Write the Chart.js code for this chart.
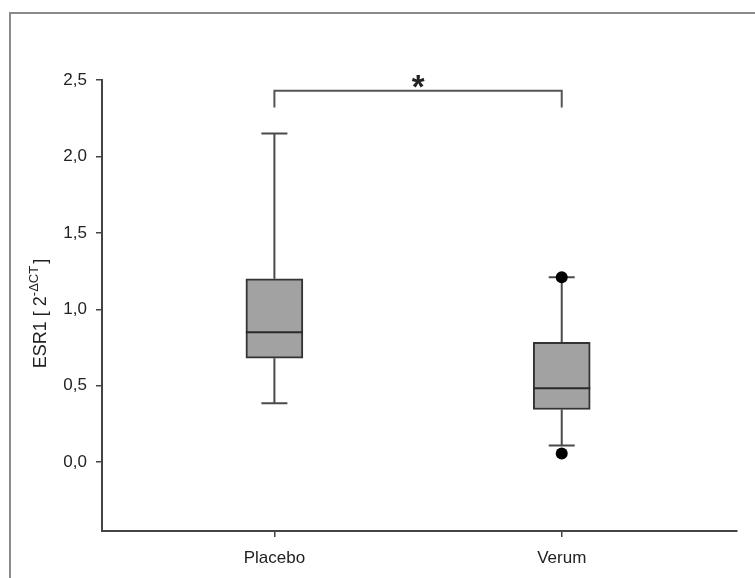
<!DOCTYPE html>
<html>
<head>
<meta charset="utf-8">
<script src="https://cdn.jsdelivr.net/npm/chart.js@4.4.1/dist/chart.umd.min.js"></script>
<style>
  html, body { margin: 0; padding: 0; background: #ffffff; }
  #wrap { width: 755px; height: 578px; position: relative; }
</style>
</head>
<body>
<div id="wrap"><canvas id="c" width="755" height="578"></canvas></div>
<script>
// Groups on the x axis (placed at positions 1 and 2)
const categories = ['Placebo', 'Verum'];
const positions = [1, 2];

// Box-plot summary per group
const whiskerLow  = [0.385, 0.11];
const q1          = [0.68, 0.345];
const median      = [0.85, 0.483];
const q3          = [1.20, 0.784];
const whiskerHigh = [2.15, 1.21];

// Outlying points drawn as dots: [position, value]
const outlierPos    = [2, 2];
const outlierValues = [1.21, 0.057];

// Y axis tick values
const yTicks = [0, 0.5, 1.0, 1.5, 2.0, 2.5];

// Significance bracket between the two groups
const bracketLevel = 2.43;
const bracketFoot  = 2.32;
const bracketLabel = '*';

const FONT = '"Liberation Sans", Arial, sans-serif';
const INK = '#222222';

const boxData = positions.map((p, i) => ({ x: p, y: [q1[i], q3[i]] }));
const outlierData = outlierPos.map((p, i) => ({ x: p, y: outlierValues[i] }));

// Outer frame around the figure
const framePlugin = {
  id: 'frame',
  beforeDraw(chart) {
    const ctx = chart.ctx;
    ctx.save();
    ctx.strokeStyle = '#8a8a8a';
    ctx.lineWidth = 2;
    ctx.strokeRect(10, 13, 800, 640);
    ctx.restore();
  }
};

// Whiskers, caps and medians
const boxPlotPlugin = {
  id: 'boxParts',
  beforeDatasetsDraw(chart) {
    const ctx = chart.ctx, xs = chart.scales.x, ys = chart.scales.y;
    ctx.save();
    ctx.strokeStyle = '#4a4a4a';
    ctx.lineWidth = 2;
    positions.forEach((p, i) => {
      const x = xs.getPixelForValue(p);
      const half = 13;
      const yLo = ys.getPixelForValue(whiskerLow[i]);
      const yQ1 = ys.getPixelForValue(q1[i]);
      const yQ3 = ys.getPixelForValue(q3[i]);
      const yHi = ys.getPixelForValue(whiskerHigh[i]);
      ctx.beginPath();
      ctx.moveTo(x, yQ1); ctx.lineTo(x, yLo);
      ctx.moveTo(x - half, yLo); ctx.lineTo(x + half, yLo);
      ctx.moveTo(x, yQ3); ctx.lineTo(x, yHi);
      ctx.moveTo(x - half, yHi); ctx.lineTo(x + half, yHi);
      ctx.stroke();
    });
    ctx.restore();
  },
  afterDatasetsDraw(chart) {
    const ctx = chart.ctx, xs = chart.scales.x, ys = chart.scales.y;
    const meta = chart.getDatasetMeta(0);
    ctx.save();
    ctx.strokeStyle = '#2a2a2a';
    ctx.lineWidth = 2;
    positions.forEach((p, i) => {
      const bar = meta.data[i];
      const half = bar.width / 2;
      const x = bar.x;
      const y = ys.getPixelForValue(median[i]);
      ctx.beginPath();
      ctx.moveTo(x - half, y); ctx.lineTo(x + half, y);
      ctx.stroke();
    });

    // significance bracket
    const xa = xs.getPixelForValue(positions[0]);
    const xb = xs.getPixelForValue(positions[1]);
    const yl = ys.getPixelForValue(bracketLevel);
    const yf = ys.getPixelForValue(bracketFoot);
    ctx.strokeStyle = '#555555';
    ctx.lineWidth = 2;
    ctx.beginPath();
    ctx.moveTo(xa, yf); ctx.lineTo(xa, yl); ctx.lineTo(xb, yl); ctx.lineTo(xb, yf);
    ctx.stroke();
    ctx.fillStyle = INK;
    ctx.font = 'bold 33px ' + FONT;
    ctx.textAlign = 'center';
    ctx.textBaseline = 'alphabetic';
    ctx.fillText(bracketLabel, (xa + xb) / 2, yl + 7);
    ctx.restore();
  }
};

// Rotated y-axis title with a superscript exponent
const yTitlePlugin = {
  id: 'yTitle',
  afterDraw(chart) {
    const ctx = chart.ctx;
    const main1 = 'ESR1 [ 2', sup = '-\u0394CT', main2 = ']';
    const big = '18px ' + FONT, small = '13px ' + FONT;
    ctx.save();
    ctx.font = big; const w1 = ctx.measureText(main1).width; const w3 = ctx.measureText(main2).width;
    ctx.font = small; const w2 = ctx.measureText(sup).width;
    const total = w1 + w2 + 2 + w3;
    const area = chart.chartArea;
    const cy = (area.top + area.bottom) / 2 + 8;
    ctx.translate(46, cy);
    ctx.rotate(-Math.PI / 2);
    ctx.fillStyle = INK;
    ctx.textAlign = 'left';
    ctx.textBaseline = 'alphabetic';
    let x = -total / 2;
    ctx.font = big; ctx.fillText(main1, x, 0); x += w1;
    ctx.font = small; ctx.fillText(sup, x, -8); x += w2 + 2;
    ctx.font = big; ctx.fillText(main2, x, 0);
    ctx.restore();
  }
};

new Chart(document.getElementById('c'), {
  type: 'bar',
  data: {
    datasets: [
      {
        type: 'bar',
        data: boxData,
        backgroundColor: '#a2a2a2',
        borderColor: '#333333',
        borderWidth: 2,
        borderSkipped: false,
        barThickness: 57,
        order: 2
      },
      {
        type: 'scatter',
        data: outlierData,
        pointStyle: 'circle',
        pointRadius: 6,
        pointBackgroundColor: '#000000',
        pointBorderColor: '#000000',
        pointBorderWidth: 0,
        order: 1
      }
    ]
  },
  options: {
    responsive: false,
    animation: false,
    events: [],
    layout: { padding: { top: 80, right: 18, left: 0, bottom: 0 } },
    plugins: { legend: { display: false }, tooltip: { enabled: false }, title: { display: false } },
    scales: {
      x: {
        type: 'linear',
        min: 0.4,
        max: 2.61,
        offset: false,
        afterFit(scale) { scale.height = 47; },
        afterBuildTicks(scale) { scale.ticks = positions.map(v => ({ value: v })); },
        ticks: {
          color: INK,
          font: { family: FONT, size: 17 },
          padding: 11,
          maxRotation: 0,
          autoSkip: false,
          callback(value) { const i = positions.indexOf(value); return i >= 0 ? categories[i] : ''; }
        },
        grid: { display: true, offset: false, drawOnChartArea: false, drawTicks: true, tickLength: 6, color: '#444444', lineWidth: 1.5 },
        border: { display: true, color: '#444444', width: 2 }
      },
      y: {
        type: 'linear',
        min: -0.45,
        max: 2.5,
        afterFit(scale) { scale.width = 102; },
        afterBuildTicks(scale) { scale.ticks = yTicks.map(v => ({ value: v })); },
        ticks: {
          color: INK,
          font: { family: FONT, size: 17 },
          padding: 9,
          callback(value) { return value.toFixed(1).replace('.', ','); }
        },
        grid: { display: true, offset: false, drawOnChartArea: false, drawTicks: true, tickLength: 6, color: '#444444', lineWidth: 1.5 },
        border: { display: true, color: '#444444', width: 2 }
      }
    }
  },
  plugins: [framePlugin, boxPlotPlugin, yTitlePlugin]
});
</script>
</body>
</html>
